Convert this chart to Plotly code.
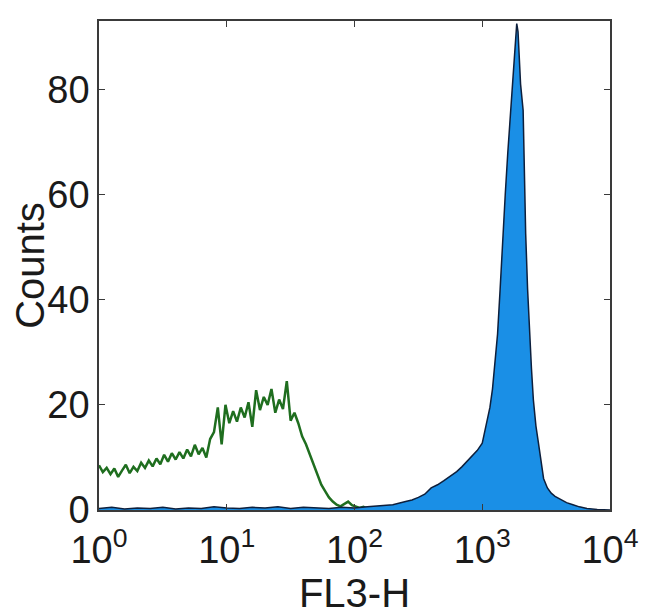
import plotly.graph_objects as go

# 녹색 (대조군) 히스토그램: log10(FL3-H) 위치와 카운트
green_log = [0.00, 0.03, 0.06, 0.09, 0.12, 0.15, 0.18, 0.21, 0.24, 0.27,
             0.30, 0.33, 0.36, 0.39, 0.42, 0.45, 0.48, 0.51, 0.54, 0.57,
             0.60, 0.63, 0.66, 0.69, 0.72, 0.75, 0.78, 0.81, 0.84, 0.87,
             0.90, 0.93, 0.96, 0.99, 1.02, 1.05, 1.08, 1.11, 1.14, 1.17,
             1.20, 1.23, 1.26, 1.29, 1.32, 1.35, 1.38, 1.41, 1.44, 1.47,
             1.50, 1.53, 1.56, 1.59, 1.62, 1.65, 1.68, 1.71, 1.74, 1.77,
             1.80, 1.83, 1.86, 1.89, 1.92, 1.95, 1.98, 2.01, 2.04, 2.07,
             2.10, 2.13, 2.16, 2.20, 2.30]
green_counts = [8.5, 7.2, 8.0, 6.8, 7.9, 6.3, 7.5, 8.6, 7.0, 8.2,
                7.4, 9.0, 8.0, 9.4, 8.3, 9.8, 8.7, 10.5, 9.2, 10.8,
                9.6, 11.0, 9.8, 11.5, 10.2, 12.4, 10.6, 11.8, 10.0, 13.5,
                14.8, 19.5, 12.5, 20.0, 16.5, 18.8, 16.8, 19.5, 17.6, 20.5,
                15.8, 22.8, 19.0, 21.5, 20.0, 23.0, 18.5, 21.0, 19.2, 24.5,
                17.0, 18.5, 16.5, 14.0, 12.5, 10.6, 8.5, 6.5, 4.8, 3.6,
                2.4, 1.6, 1.0, 0.7, 1.2, 1.6, 0.9, 0.6, 0.4, 0.6,
                0.2, 0.3, 0.1, 0.0, 0.0]

# 파란색 (염색) 히스토그램
blue_log = [0.0, 0.1, 0.2, 0.3, 0.4, 0.5, 0.6, 0.7, 0.8, 0.9,
            1.0, 1.1, 1.2, 1.3, 1.4, 1.5, 1.6, 1.7, 1.8, 1.9,
            2.0, 2.1, 2.2, 2.3, 2.4, 2.45, 2.5, 2.55, 2.6, 2.65,
            2.7, 2.75, 2.8, 2.84, 2.88, 2.92, 2.96, 3.0, 3.03, 3.06,
            3.08, 3.10, 3.12, 3.14, 3.16, 3.18, 3.20, 3.22, 3.24, 3.26,
            3.27, 3.28, 3.29, 3.30, 3.32, 3.33, 3.34, 3.355, 3.37, 3.385,
            3.40, 3.42, 3.44, 3.46, 3.48, 3.51, 3.54, 3.57, 3.61, 3.66,
            3.71, 3.76, 3.82, 3.90, 4.0]
blue_counts = [0.3, 0.5, 0.2, 0.4, 0.3, 0.5, 0.2, 0.4, 0.3, 0.6,
               0.4, 0.3, 0.5, 0.4, 0.6, 0.3, 0.5, 0.4, 0.3, 0.5,
               0.4, 0.6, 0.8, 1.0, 1.6, 1.9, 2.4, 3.0, 4.2, 4.8,
               5.6, 6.4, 7.3, 8.2, 9.3, 10.2, 11.3, 12.7, 16.0, 19.5,
               23.0, 28.0, 33.5, 42.0, 52.5, 60.0, 68.0, 75.0, 82.0, 89.0,
               92.5, 91.0, 86.0, 81.0, 76.0, 64.0, 52.5, 42.0, 33.5, 27.0,
               21.0, 16.0, 12.7, 9.0, 6.0, 4.2, 3.2, 2.6, 2.0, 1.4,
               1.0, 0.6, 0.3, 0.1, 0.0]

x_tickvals = [1, 10, 100, 1000, 10000]
x_ticktext = ["10<sup>0</sup>", "10<sup>1</sup>", "10<sup>2</sup>",
              "10<sup>3</sup>", "10<sup>4</sup>"]
y_tickvals = [0, 20, 40, 60, 80]

fig = go.Figure()

fig.add_trace(go.Scatter(
    x=[10 ** v for v in green_log],
    y=green_counts,
    mode='lines',
    line=dict(color='#1f6e1f', width=2.5),
    name='control'
))

fig.add_trace(go.Scatter(
    x=[10 ** v for v in blue_log],
    y=blue_counts,
    mode='lines',
    fill='tozeroy',
    fillcolor='#1a8fe6',
    line=dict(color='#0d1f3c', width=1.5),
    name='stained'
))

axis_style = dict(
    showline=True,
    linecolor='#3a3a3a',
    linewidth=1.5,
    mirror='ticks',
    ticks='inside',
    ticklen=6,
    tickcolor='#3a3a3a',
    showgrid=False,
    zeroline=False,
    tickfont=dict(size=38, color='#1a1a1a'),
)

# 브라우저 body 여백(8px)을 감안한 여백
fig.update_layout(
    width=650,
    height=616,
    margin=dict(l=85, r=48, t=11, b=114),
    paper_bgcolor='white',
    plot_bgcolor='white',
    showlegend=False,
    font=dict(family="Liberation Sans, Arial, sans-serif", color='#1a1a1a'),
    xaxis=dict(
        type='log',
        range=[0, 4],
        tickvals=x_tickvals,
        ticktext=x_ticktext,
        ticklabelstandoff=6,
        title=dict(text='FL3-H', font=dict(size=40), standoff=0),
        **axis_style
    ),
    yaxis=dict(
        range=[0, 93],
        tickvals=y_tickvals,
        title=dict(text='Counts', font=dict(size=40), standoff=0),
        **axis_style
    ),
)

fig.write_html("out.html")
